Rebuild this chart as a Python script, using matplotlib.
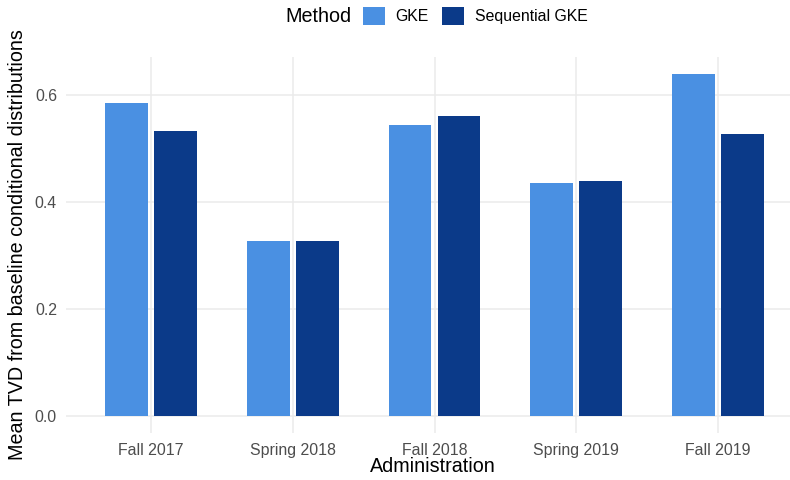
import numpy as np
import matplotlib.pyplot as plt
from matplotlib.patches import Patch

plt.rcParams['font.family'] = ['Liberation Sans', 'DejaVu Sans']

# Data
administrations = ['Fall 2017', 'Spring 2018', 'Fall 2018', 'Spring 2019', 'Fall 2019']
methods = ['GKE', 'Sequential GKE']
tvd_gke = [0.585, 0.327, 0.544, 0.436, 0.639]
tvd_seq = [0.533, 0.327, 0.561, 0.439, 0.527]
y_ticks = [0.0, 0.2, 0.4, 0.6]

colors = ['#4A90E2', '#0B3A89']
grid_col = '#EBEBEB'
text_col = '#4D4D4D'
title_fs = 14.2
tick_fs = 11.4

fig = plt.figure(figsize=(7.9, 4.8), dpi=100)
# panel runs a bit past the right edge, as in the reference
ax = fig.add_axes([66 / 790, 47 / 480, 737 / 790, 376 / 480])

x = np.arange(1, len(administrations) + 1)
w = 0.30
off = 0.173
ax.bar(x - off, tvd_gke, width=w, color=colors[0], zorder=2)
ax.bar(x + off, tvd_seq, width=w, color=colors[1], zorder=2)

ax.set_xlim(0.4, len(administrations) + 0.6)
top = max(tvd_gke + tvd_seq)
ax.set_ylim(-0.05 * top, top * 1.05)

ax.set_xticks(x)
ax.set_xticklabels(administrations)
ax.set_yticks(y_ticks)
ax.set_yticklabels([f'{v:.1f}' for v in y_ticks])
ax.tick_params(length=0, labelsize=tick_fs, labelcolor=text_col)
ax.tick_params(axis='y', pad=6.5)
ax.tick_params(axis='x', pad=7)

ax.grid(True, color=grid_col, linewidth=1.1, zorder=0)
for s in ax.spines.values():
    s.set_visible(False)

ax.set_xlabel('Administration', fontsize=title_fs)
ax.set_ylabel('Mean TVD from baseline conditional distributions', fontsize=title_fs)
ax.xaxis.label.set_va('center')
ax.yaxis.label.set_va('center')
ax.xaxis.set_label_coords(0.5 - 0.0 + (433 - (66 + 737 / 2)) / 737, -34 / 376)
ax.yaxis.set_label_coords(-48 / 737, 0.5)

# legend on top with title at the left
fig.text(285 / 790, 1 - 16 / 480, 'Method', fontsize=title_fs, va='center', ha='left')
handles = [Patch(facecolor=c, edgecolor='none') for c in colors]
fig.legend(handles, methods, loc='center left', bbox_to_anchor=(363 / 790, 1 - 16 / 480),
           ncol=2, frameon=False, fontsize=tick_fs, handlelength=1.37, handleheight=1.37,
           handletextpad=0.69, columnspacing=0.85, borderaxespad=0, borderpad=0)

fig.savefig('out.png', dpi=100)
